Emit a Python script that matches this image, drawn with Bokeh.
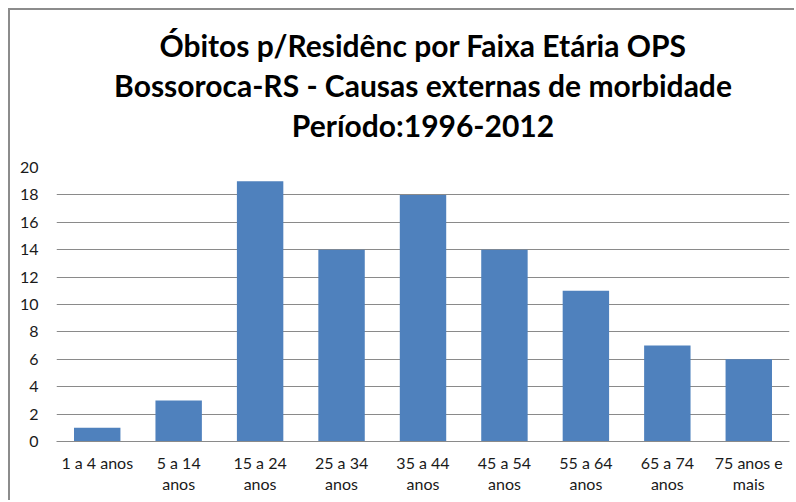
from bokeh.plotting import figure
from bokeh.models import Title, ColumnDataSource
from bokeh.embed import file_html
from bokeh.resources import INLINE

categories = ["1 a 4 anos", "5 a 14\nanos", "15 a 24\nanos", "25 a 34\nanos", "35 a 44\nanos",
              "45 a 54\nanos", "55 a 64\nanos", "65 a 74\nanos", "75 anos e\nmais"]
values = [1, 3, 19, 14, 18, 14, 11, 7, 6]
y_ticks = [0, 2, 4, 6, 8, 10, 12, 14, 16, 18, 20]
title_lines = ["Óbitos p/Residênc por Faixa Etária OPS",
               "Bossoroca-RS - Causas externas de morbidade",
               "Período:1996-2012"]

FONT = "Lato"
src = ColumnDataSource(dict(cat=categories, val=values))

p = figure(x_range=categories, y_range=(0, 20), width=786, height=492,
           output_backend="svg", toolbar_location=None,
           min_border_left=46, min_border_right=7, min_border_top=157, min_border_bottom=61)
p.title = None
p.styles = {"margin-left": "8px", "margin-top": "8px",
            "border-left": "2px solid #8c8c8c", "border-top": "2px solid #8c8c8c"}

p.vbar(x="cat", top="val", width=0.57, source=src, fill_color="#4F81BD", line_color=None)

# spacer between plot area and title block
p.add_layout(Title(text=" ", text_font_size="1px", standoff=21), "above")
# title lines, bottom line first so it sits nearest the plot
for line in reversed(title_lines):
    p.add_layout(Title(text=line, align="center", text_font=FONT, text_font_size="30px",
                       text_font_style="bold", text_color="#000000", standoff=2), "above")

p.outline_line_color = None
p.background_fill_color = "white"
p.border_fill_color = "white"

p.xgrid.grid_line_color = None
p.ygrid.grid_line_color = "#8a8a8a"
p.ygrid.grid_line_width = 1
p.yaxis.ticker = y_ticks
p.yaxis.axis_line_color = None
p.yaxis.major_tick_line_color = None
p.yaxis.minor_tick_line_color = None
p.yaxis.major_label_standoff = 12
p.yaxis.major_label_text_font = FONT
p.yaxis.major_label_text_font_size = "16px"
p.yaxis.major_label_text_color = "#1a1a1a"

p.xaxis.axis_line_color = "#8a8a8a"
p.xaxis.major_tick_line_color = None
p.xaxis.minor_tick_line_color = None
p.xaxis.major_label_standoff = 5
p.xaxis.major_label_text_font = FONT
p.xaxis.major_label_text_font_size = "16px"
p.xaxis.major_label_text_line_height = 1.15
p.xaxis.major_label_text_color = "#1a1a1a"
p.x_range.range_padding = 0

open("out.html", "w").write(file_html(p, INLINE))
